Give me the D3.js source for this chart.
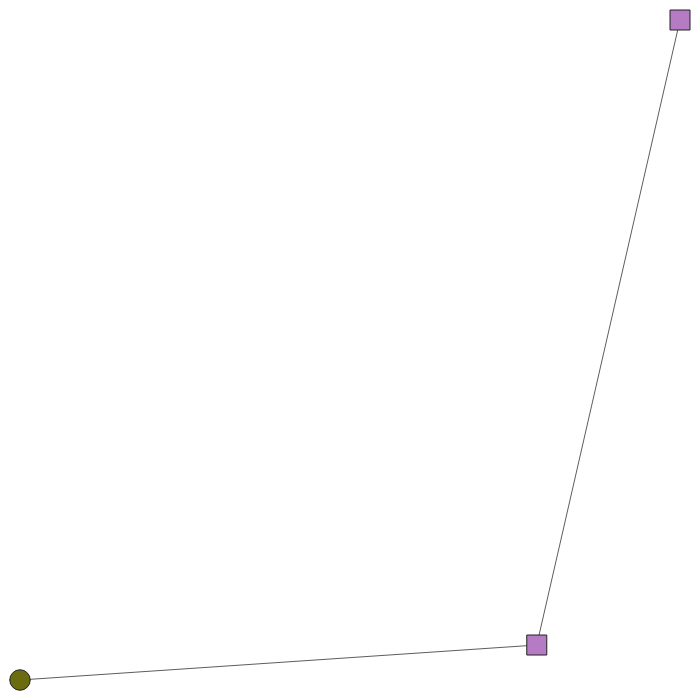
<!DOCTYPE html>
<html>
<head>
<meta charset="utf-8">
<script src="https://cdn.jsdelivr.net/npm/d3@7"></script>
<style>body{margin:0;background:#fff}</style>
</head>
<body>
<svg id="chart" width="700" height="700"></svg>
<script>
// node layout (normalised coordinates)
const nodeIds = ["a", "b", "c"];
const nodeX = [0, 0.783, 1];
const nodeY = [0, 0.053, 1];
const nodeShape = ["circle", "square", "square"];
const nodeColor = ["#6b6b0f", "#b57cc4", "#b57cc4"];
const edges = [["a", "b"], ["b", "c"]];

const svg = d3.select("#chart");
const x = d3.scaleLinear().domain([0, 1]).range([20, 680]);
const y = d3.scaleLinear().domain([0, 1]).range([680, 20]);

const nodes = nodeIds.map((id, i) => ({id, x: nodeX[i], y: nodeY[i], shape: nodeShape[i], color: nodeColor[i]}));
const byId = new Map(nodes.map(n => [n.id, n]));

svg.selectAll("line")
  .data(edges)
  .enter()
  .append("line")
  .attr("x1", d => x(byId.get(d[0]).x))
  .attr("y1", d => y(byId.get(d[0]).y))
  .attr("x2", d => x(byId.get(d[1]).x))
  .attr("y2", d => y(byId.get(d[1]).y))
  .attr("stroke", "#333")
  .attr("stroke-width", 0.8);

const sym = d3.symbol().size(d => d.shape === "circle" ? 330 : 400)
  .type(d => d.shape === "circle" ? d3.symbolCircle : d3.symbolSquare);

svg.selectAll("path.node")
  .data(nodes)
  .enter()
  .append("path")
  .attr("class", "node")
  .attr("d", sym)
  .attr("transform", d => `translate(${x(d.x)},${y(d.y)})`)
  .attr("fill", d => d.color)
  .attr("stroke", "#222")
  .attr("stroke-width", 1);
</script>
</body>
</html>
